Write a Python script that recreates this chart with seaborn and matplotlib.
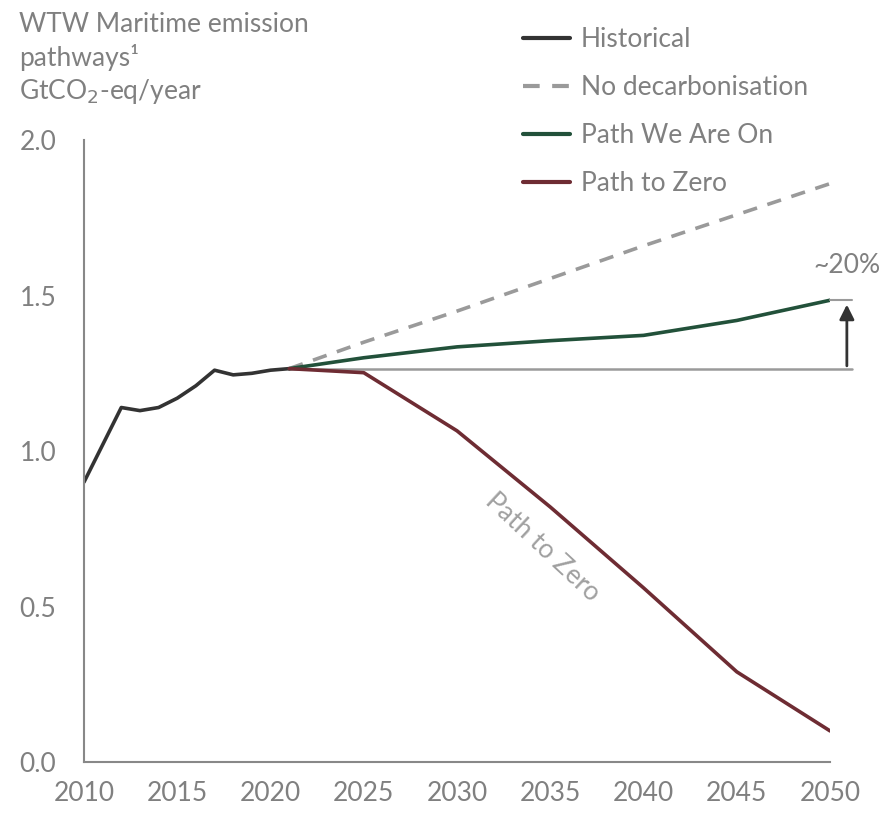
import numpy as np
import pandas as pd
import matplotlib.pyplot as plt
import seaborn as sns

# values (GtCO2-eq/year)
hist_years = [2010, 2011, 2012, 2013, 2014, 2015, 2016, 2017, 2018, 2019, 2020, 2021]
hist_vals = [0.90, 1.02, 1.14, 1.13, 1.14, 1.17, 1.21, 1.26, 1.245, 1.25, 1.26, 1.265]

proj_years = [2021, 2025, 2030, 2035, 2040, 2045, 2050]
nodecarb_vals = [1.265, 1.35, 1.45, 1.555, 1.66, 1.76, 1.86]
path_on_vals = [1.265, 1.30, 1.335, 1.355, 1.372, 1.42, 1.485]
path_zero_vals = [1.265, 1.252, 1.065, 0.82, 0.56, 0.29, 0.10]

series_labels = ['Historical', 'No decarbonisation', 'Path We Are On', 'Path to Zero']
series_colors = ['#333333', '#9a9a9a', '#22513a', '#6e2c33']

sns.set_style('white')
plt.rcParams['font.family'] = ['Lato', 'DejaVu Sans']
FS = 19
TXT = '#808080'

hist_df = pd.DataFrame({'year': hist_years, 'value': hist_vals, 'series': series_labels[0]})
proj_df = pd.concat([
    pd.DataFrame({'year': proj_years, 'value': v, 'series': s})
    for v, s in zip([nodecarb_vals, path_on_vals, path_zero_vals], series_labels[1:])
])
df = pd.concat([hist_df, proj_df], ignore_index=True)

fig = plt.figure(figsize=(8.84, 8.13), dpi=100)
ax = fig.add_axes([0.095, 0.0627, 0.844, 0.765])

palette = dict(zip(series_labels, series_colors))
sns.lineplot(data=df, x='year', y='value', hue='series', style='series',
             hue_order=series_labels, style_order=series_labels,
             palette=palette, dashes={series_labels[0]: '', series_labels[1]: (4, 3),
                                      series_labels[2]: '', series_labels[3]: ''},
             linewidth=2.6, ax=ax, legend=True)

# reference line at today's level and the ~20% arrow
base = path_on_vals[0]
ax.plot([proj_years[0], 2051.2], [base, base], color='#9a9a9a', lw=1.8, zorder=1, clip_on=False)
ax.plot([2050, 2051.2], [path_on_vals[-1], path_on_vals[-1]], color='#9a9a9a', lw=1.5, clip_on=False)
ax.annotate('', xy=(2050.9, path_on_vals[-1] - 0.005), xytext=(2050.9, base),
            arrowprops=dict(arrowstyle='-|>', color='#333333', lw=2, mutation_scale=22),
            annotation_clip=False)
ax.text(2052.7, 1.555, '~20%', fontsize=FS, color=TXT, ha='right', va='bottom')

ax.text(2034.6, 0.69, 'Path to Zero', fontsize=FS, color='#a0a0a0', rotation=-43,
        ha='center', va='center')

ax.set_xlim(2010, 2050)
ax.set_ylim(0, 2.0)
ax.set_xticks(np.arange(2010, 2051, 5))
ax.set_yticks(np.arange(0, 2.01, 0.5))
ax.set_yticklabels([f'{t:.1f}' for t in np.arange(0, 2.01, 0.5)])
ax.set_xlabel('')
ax.set_ylabel('')
sns.despine(ax=ax)
for s in ['left', 'bottom']:
    ax.spines[s].set_color('#888888')
    ax.spines[s].set_linewidth(1.5)
ax.tick_params(axis='both', colors='#888888', labelcolor=TXT, labelsize=FS,
               length=6, width=1.3, direction='out')
ax.tick_params(axis='x', pad=8)
ax.tick_params(axis='y', pad=14)

fig.text(0.022, 0.985, 'WTW Maritime emission\npathways\u00b9\nGtCO$_2$-eq/year',
         fontsize=FS, color=TXT, ha='left', va='top', linespacing=1.3)

leg = ax.legend(loc='upper left', bbox_to_anchor=(0.556, 1.22), frameon=False,
                fontsize=FS, handlelength=1.8, labelspacing=0.87, handletextpad=0.4)
for t in leg.get_texts():
    t.set_color(TXT)
for h in leg.get_lines():
    h.set_linewidth(3)

fig.savefig('out.png', dpi=100)
